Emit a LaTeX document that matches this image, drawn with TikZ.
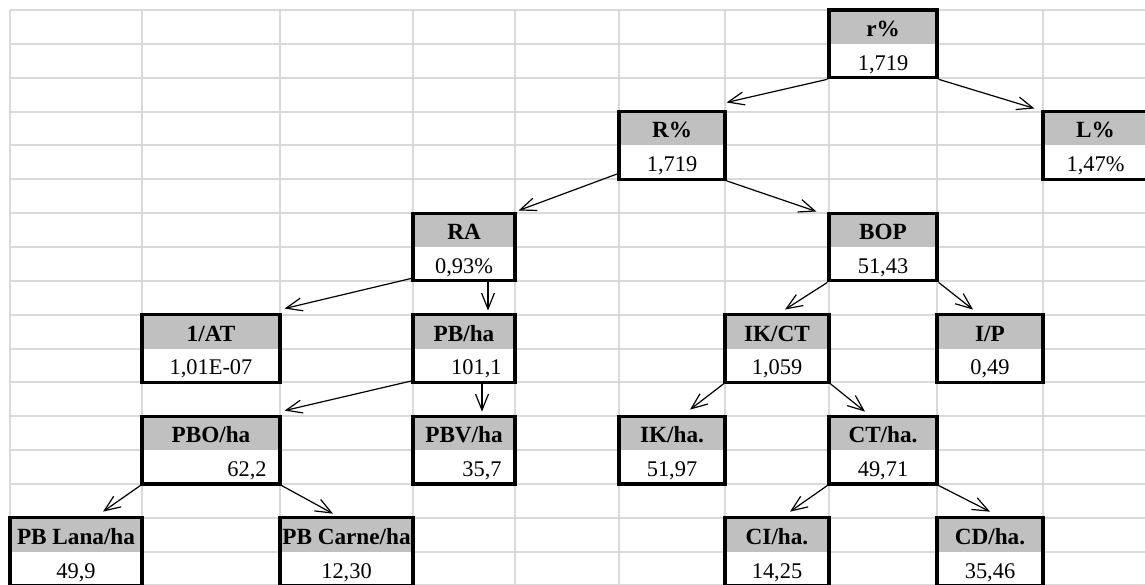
\documentclass[tikz,border=0pt]{standalone}
\usepackage{fontspec}
\setmainfont{Liberation Serif}
\usetikzlibrary{fit,calc,arrows.meta}
\definecolor{gridc}{HTML}{D9D9D9}
\definecolor{hdrgray}{HTML}{C0C0C0}
\tikzset{
  gridline/.style={draw=gridc, line width=1pt},
  boxframe/.style={draw=black, line width=1.6pt, inner sep=0pt, rectangle},
  hdrtext/.style={anchor=base, inner sep=0pt, font=\bfseries\fontsize{11.6}{13}\selectfont},
  valtext/.style={anchor=base, inner sep=0pt, font=\fontsize{11.2}{13}\selectfont},
  valright/.style={anchor=base east, inner sep=0pt, font=\fontsize{11.2}{13}\selectfont},
  conn/.style={draw=black, line width=0.6pt, -{Straight Barb[length=8pt, width=6.5pt]}},
}
% #1 name, #2 x1, #3 x2, #4 ytop, #5 ymid, #6 ybot, #7 header
\newcommand\kframe[7]{%
  \fill[hdrgray] (#2,#4) rectangle (#3,#5);
  \fill[white] (#2,#5) rectangle (#3,#6);
  \node[boxframe, fit={(#2,#4) (#3,#6)}] (#1) {};
  \node[hdrtext] (#1h) at ({(#2+#3)/2},#5-7.5) {#7};
}
% centered value
\newcommand\kbox[8]{%
  \kframe{#1}{#2}{#3}{#4}{#5}{#6}{#7}
  \node[valtext] (#1v) at ({(#2+#3)/2},#6-7.5) {#8};
}
% right-aligned value
\newcommand\kboxr[8]{%
  \kframe{#1}{#2}{#3}{#4}{#5}{#6}{#7}
  \node[valright] (#1v) at (#3-13,#6-7.5) {#8};
}
\begin{document}
\begin{tikzpicture}[x=0.5pt, y=-0.5pt]
\useasboundingbox (0,0) rectangle (1145,584);
\clip (0,0) rectangle (1145,584);
\fill[white] (0,0) rectangle (1145,584);
% spreadsheet grid
\foreach \gx in {10,142,280,413,515,619,725,829,937,1043}
  \draw[gridline] (\gx,10) -- (\gx,590);
\foreach \k in {0,...,17}
  \draw[gridline] (10,{10+\k*33.85}) -- (1150,{10+\k*33.85});
% boxes
\kbox{rp}{829}{937}{10}{43.85}{77.7}{r\%}{1,719}
\kbox{Lp}{1043}{1148}{111.55}{145.4}{179.25}{L\%}{1,47\%}
\kbox{Rp}{619}{725}{111.55}{145.4}{179.25}{R\%}{1,719}
\kbox{RA}{413}{515}{213.1}{246.95}{280.8}{RA}{0,93\%}
\kbox{BOP}{829}{937}{213.1}{246.95}{280.8}{BOP}{51,43}
\kbox{AT}{142}{280}{314.65}{348.5}{382.35}{1/AT}{1,01E-07}
\kboxr{PBha}{413}{515}{314.65}{348.5}{382.35}{PB/ha}{101,1}
\kbox{IKCT}{725}{829}{314.65}{348.5}{382.35}{IK/CT}{1,059}
\kbox{IP}{937}{1043}{314.65}{348.5}{382.35}{I/P}{0,49}
\kboxr{PBO}{142}{280}{416.2}{450.05}{483.9}{PBO/ha}{62,2}
\kboxr{PBV}{413}{515}{416.2}{450.05}{483.9}{PBV/ha}{35,7}
\kbox{IKha}{619}{725}{416.2}{450.05}{483.9}{IK/ha.}{51,97}
\kbox{CTha}{829}{937}{416.2}{450.05}{483.9}{CT/ha.}{49,71}
\kbox{Lana}{10}{142}{517.75}{551.6}{586}{PB Lana/ha}{49,9}
\kbox{Carne}{280}{413}{517.75}{551.6}{586}{PB Carne/ha}{12,30}
\kbox{CI}{725}{829}{517.75}{551.6}{586}{CI/ha.}{14,25}
\kbox{CD}{937}{1043}{517.75}{551.6}{586}{CD/ha.}{35,46}
% connectors
\draw[conn] (rp.south west) -- ($(Rp.north east)+(0,-7.5)$);
\draw[conn] (rp.south east) -- ($(Lp.north west)+(-7,-1.5)$);
\draw[conn] ($(Rp.south west)+(0,-7)$) -- ($(RA.north east)+(2,-1)$);
\draw[conn] (Rp.south east) -- ($(BOP.north west)+(-11,0)$);
\draw[conn] ($(RA.south west)+(0,-4)$) -- ($(AT.north east)+(3,-4.5)$);
\draw[conn] ($(RA.south)+(24,0)$) -- ($(PBha.north)+(24,-2.5)$);
\draw[conn] ($(PBha.south west)+(0,-3)$) -- ($(PBO.north east)+(3,-4)$);
\draw[conn] ($(PBha.south)+(18,0)$) -- ($(PBV.north)+(18,-3)$);
\draw[conn] (BOP.south west) -- ($(IKCT.north)+(8,-3.5)$);
\draw[conn] (BOP.south east) -- ($(IP.north)+(-17,-3.5)$);
\draw[conn] (IKCT.south west) -- ($(IKha.north)+(18,-5)$);
\draw[conn] (IKCT.south east) -- ($(CTha.north)+(-18,-3)$);
\draw[conn] (PBO.south west) -- ($(Lana.north)+(27,-4.5)$);
\draw[conn] (PBO.south east) -- ($(Carne.north)+(-13.5,-2.5)$);
\draw[conn] (CTha.south west) -- ($(CI.north)+(13,-4.5)$);
\draw[conn] (CTha.south east) -- ($(CD.north)+(0,-4.5)$);
\end{tikzpicture}
\end{document}
